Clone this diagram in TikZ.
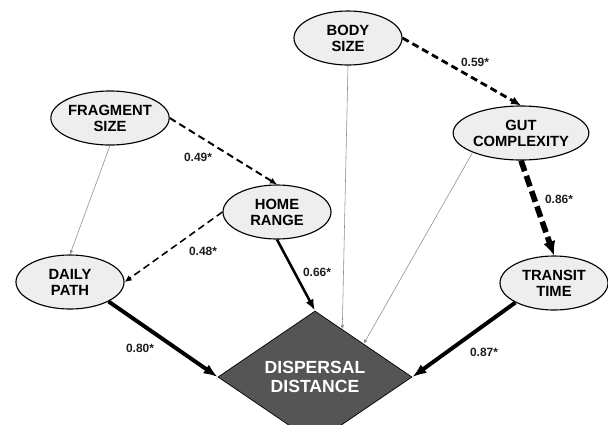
\documentclass[tikz,border=0pt]{standalone}
\usepackage{fontspec}
\setmainfont{Liberation Sans}
\usepackage{xcolor}
\usepackage{tikz}
\usetikzlibrary{arrows.meta,calc,shapes.geometric}
\definecolor{ovfill}{RGB}{238,238,238}
\definecolor{dmfill}{RGB}{85,85,85}
\definecolor{thinln}{RGB}{140,140,140}
\definecolor{lbl}{RGB}{30,30,30}

\begin{document}
\begin{tikzpicture}[x=0.025cm,y=-0.025cm,
    var/.style={ellipse,draw,line width=0.8pt,fill=ovfill,inner sep=0pt,
      minimum width=2.7cm,minimum height=1.35cm,align=center,
      font=\fontsize{10.5}{11.5}\selectfont\bfseries},
    coef/.style={font=\fontsize{8.5}{9}\selectfont\bfseries,text=lbl},
    weak/.style={draw=thinln,line width=0.4pt,-{Latex[length=3pt,width=2.5pt]}},
    dashpath/.style={dash pattern=on 5pt off 3pt,-{Latex[length=5pt,width=4.5pt]}},
    strong/.style={-{Latex[length=10pt,width=7.5pt]}}]
  \useasboundingbox (0,0) rectangle (608,424);

  % variables
  \node[var] (frag) at (110,118) {FRAGMENT\\SIZE};
  \node[var] (home) at (277,212) {HOME\\RANGE};
  \node[var] (daily) at (70,282) {DAILY\\PATH};
  \node[var] (body) at (348,38) {BODY\\SIZE};
  \node[var] (gut) at (521,133) {GUT\\COMPLEXITY};
  \node[var] (trans) at (554,283) {TRANSIT\\TIME};

  % outcome
  \node[diamond,draw,line width=0.5pt,fill=dmfill,inner sep=0pt,minimum width=4.85cm,minimum height=2.4cm,
    align=center,text=white,font=\fontsize{12.5}{13.5}\selectfont\bfseries] (disp) at (315,377) {DISPERSAL\\DISTANCE};
  \coordinate (bodyin) at ($(disp.north)!0.28!(disp.east)$);

  % paths
  \draw[weak] (frag.south) -- (daily.north);
  \draw[weak] (body.south) -- (bodyin);
  \draw[weak] (gut.south west) -- (disp.north east);
  \draw[dashpath,line width=1.4pt] (frag.east) -- (home.north);
  \draw[dashpath,line width=1.1pt] (home.west) -- (daily.east);
  \draw[dashpath,line width=2pt,-{Latex[length=7pt,width=6pt]}] (body.east) -- (gut.north);
  \draw[line width=4pt,dash pattern=on 8pt off 3.5pt,-{Latex[length=10pt,width=9pt]}] (gut.south) -- (trans.north);
  \draw[line width=1.8pt,-{Latex[length=8pt,width=6pt]}] (home.south) -- (disp.north);
  \draw[strong,line width=2.8pt] (daily.south east) -- (disp.west);
  \draw[strong,line width=2.8pt] (trans.south west) -- (disp.east);

  % coefficients
  \node[coef] (c49) at (198,157) {0.49*};
  \node[coef] (c48) at (203,251) {0.48*};
  \node[coef] (c59) at (475,62) {0.59*};
  \node[coef] (c86) at (559,199) {0.86*};
  \node[coef] (c66) at (317,272) {0.66*};
  \node[coef] (c80) at (140,348) {0.80*};
  \node[coef] (c87) at (484,352) {0.87*};
\end{tikzpicture}
\end{document}
